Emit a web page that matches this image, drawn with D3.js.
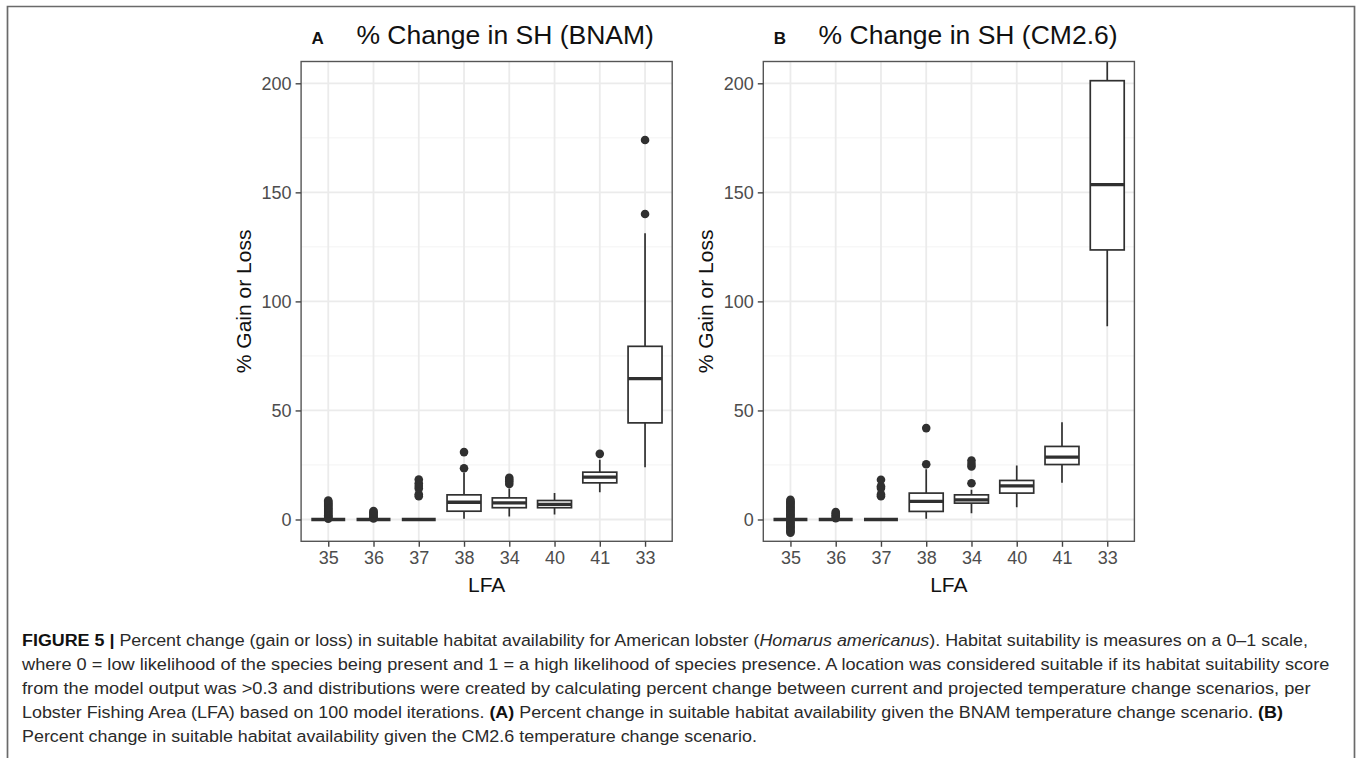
<!DOCTYPE html>
<html><head><meta charset="utf-8">
<script src="https://cdn.jsdelivr.net/npm/d3@7"></script>
<style>
body{margin:0;background:#fff}
svg{display:block}
text{font-family:"Liberation Sans",Arial,Helvetica,sans-serif}
</style>
</head><body>
<svg id="c" width="1360" height="758"></svg>
<script>
// ---------------- DATA ----------------
const categories = ["35","36","37","38","34","40","41","33"];
const yTicks = [0, 50, 100, 150, 200];
const yMinorTicks = [25, 75, 125, 175];

// Panel A : BNAM
const bnamLow    = [0, 0, 0, 0.3, 1.4, 2.3, 12.5, 24.0];
const bnamQ1     = [0, 0, 0, 3.8, 5.4, 5.4, 16.8, 44.3];
const bnamMedian = [0, 0, 0, 7.9, 7.6, 6.9, 19.4, 64.6];
const bnamQ3     = [0, 0, 0, 11.3, 9.9, 8.7, 21.7, 79.4];
const bnamHigh   = [0, 0, 0, 21.5, 14.2, 12.1, 27.4, 131.2];
const bnamOutliers = [
  [0.4,0.8,1.2,1.6,2.0,2.5,3.0,3.4,3.9,4.4,4.9,5.3,5.8,6.3,6.8,7.2,7.7,8.2,8.7],
  [0.5,1.0,1.6,2.2,2.8,3.3,3.9],
  [10.7,11.6,14.2,15.3,16.6,18.3],
  [23.5,30.9],
  [16.3,17.4,18.2,19.1],
  [],
  [30.1],
  [140.1,174.0]
];

// Panel B : CM2.6
const cmLow    = [0, 0, 0, 0.3, 2.9, 5.6, 16.8, 88.6];
const cmQ1     = [0, 0, 0, 3.7, 7.5, 12.1, 25.2, 123.6];
const cmMedian = [0, 0, 0, 8.3, 9.0, 15.4, 28.6, 153.5];
const cmQ3     = [0, 0, 0, 12.1, 11.3, 17.9, 33.5, 201.2];
const cmHigh   = [0, 0, 0, 23.0, 13.6, 24.8, 44.6, 240.0];
const cmOutliers = [
  [-6.1,-5.5,-4.9,-4.3,-3.7,-3.1,-2.5,-1.9,-1.3,-0.7,0.6,1.2,1.8,2.4,3.0,3.6,4.2,4.8,5.4,6.0,6.6,7.2,7.8,8.4,9.0],
  [0.6,1.3,2.0,2.7,3.4],
  [10.7,11.5,14.4,15.2,18.2],
  [25.3,41.9],
  [16.6,24.3,25.5,27.0],
  [],
  [],
  []
];

const panelTags = ["A", "B"];
const panelTitles = ["% Change in SH (BNAM)", "% Change in SH (CM2.6)"];
const yTitle = "% Gain or Loss";
const xTitle = "LFA";

const captionLines = [
  [{t:"FIGURE 5 | ", b:true}, {t:"Percent change (gain or loss) in suitable habitat availability for American lobster ("}, {t:"Homarus americanus", i:true}, {t:"). Habitat suitability is measures on a 0–1 scale,"}],
  [{t:"where 0 = low likelihood of the species being present and 1 = a high likelihood of species presence. A location was considered suitable if its habitat suitability score"}],
  [{t:"from the model output was >0.3 and distributions were created by calculating percent change between current and projected temperature change scenarios, per"}],
  [{t:"Lobster Fishing Area (LFA) based on 100 model iterations. "}, {t:"(A)", b:true}, {t:" Percent change in suitable habitat availability given the BNAM temperature change scenario. "}, {t:"(B)", b:true}],
  [{t:"Percent change in suitable habitat availability given the CM2.6 temperature change scenario."}]
];

// ---------------- LAYOUT ----------------
const svg = d3.select("#c");
const panels = [
  {left: 301.1, right: 672.2, low: bnamLow, q1: bnamQ1, med: bnamMedian, q3: bnamQ3, high: bnamHigh, out: bnamOutliers},
  {left: 763.3, right: 1134.4, low: cmLow, q1: cmQ1, med: cmMedian, q3: cmQ3, high: cmHigh, out: cmOutliers}
];
const plotTop = 61.5, plotBottom = 541.3;

// outer frame
svg.append("path").attr("d", "M7.5,800V6.5H1354.5V800")
  .attr("fill", "none").attr("stroke", "#6a6a6a").attr("stroke-width", 1.7);

const defs = svg.append("defs");

panels.forEach((p, pi) => {
  const x = d3.scalePoint().domain(categories).range([p.left, p.right]).padding(0.6);
  const y = d3.scaleLinear().domain([-10, 210]).range([plotBottom, plotTop]);
  const g = svg.append("g");
  const clipId = "clip" + pi;
  defs.append("clipPath").attr("id", clipId).append("rect")
    .attr("x", p.left).attr("y", plotTop).attr("width", p.right - p.left).attr("height", plotBottom - plotTop);

  const plot = g.append("g").attr("clip-path", `url(#${clipId})`);
  // grid
  plot.selectAll(".minor").data(yMinorTicks).join("line")
    .attr("x1", p.left).attr("x2", p.right)
    .attr("y1", d => y(d)).attr("y2", d => y(d))
    .attr("stroke", "#f3f3f3").attr("stroke-width", 1);
  plot.selectAll(".majorY").data(yTicks).join("line")
    .attr("x1", p.left).attr("x2", p.right)
    .attr("y1", d => y(d)).attr("y2", d => y(d))
    .attr("stroke", "#ebebeb").attr("stroke-width", 1.8);
  plot.selectAll(".majorX").data(categories).join("line")
    .attr("x1", d => x(d)).attr("x2", d => x(d))
    .attr("y1", plotTop).attr("y2", plotBottom)
    .attr("stroke", "#ebebeb").attr("stroke-width", 1.8);

  const bw = x.step() * 0.75;
  const col = "#303030";
  categories.forEach((c, i) => {
    const cx = x(c);
    const bg = plot.append("g");
    bg.selectAll("circle").data(p.out[i]).join("circle")
      .attr("cx", cx).attr("cy", d => y(d)).attr("r", 4.3).attr("fill", col);
    bg.append("line").attr("x1", cx).attr("x2", cx)
      .attr("y1", y(p.q3[i])).attr("y2", y(p.high[i]))
      .attr("stroke", col).attr("stroke-width", 1.7);
    bg.append("line").attr("x1", cx).attr("x2", cx)
      .attr("y1", y(p.q1[i])).attr("y2", y(p.low[i]))
      .attr("stroke", col).attr("stroke-width", 1.7);
    bg.append("rect").attr("x", cx - bw/2).attr("width", bw)
      .attr("y", y(p.q3[i])).attr("height", Math.max(0, y(p.q1[i]) - y(p.q3[i])))
      .attr("fill", "#fff").attr("stroke", col).attr("stroke-width", 1.7);
    bg.append("line").attr("x1", cx - bw/2).attr("x2", cx + bw/2)
      .attr("y1", y(p.med[i])).attr("y2", y(p.med[i]))
      .attr("stroke", col).attr("stroke-width", 3.3);
  });

  // panel border
  g.append("rect").attr("x", p.left).attr("y", plotTop)
    .attr("width", p.right - p.left).attr("height", plotBottom - plotTop)
    .attr("fill", "none").attr("stroke", "#555").attr("stroke-width", 1.4);

  // axes
  const ax = g.append("g").attr("transform", `translate(0,${plotBottom})`)
    .call(d3.axisBottom(x).tickSize(5.5).tickPadding(4));
  const ay = g.append("g").attr("transform", `translate(${p.left},0)`)
    .call(d3.axisLeft(y).tickValues(yTicks).tickSize(5.5).tickPadding(4));
  [ax, ay].forEach(a => {
    a.select(".domain").remove();
    a.selectAll(".tick line").attr("stroke", "#444").attr("stroke-width", 1.4);
    a.selectAll(".tick text").attr("fill", "#4d4d4d")
      .style("font-size", "18px").style("font-family", '"Liberation Sans",Arial,sans-serif');
  });

  // axis titles
  g.append("text").attr("x", (p.left + p.right) / 2).attr("y", 592)
    .attr("text-anchor", "middle").attr("fill", "#111").style("font-size", "21px").text(xTitle);
  g.append("text").attr("transform", `translate(${p.left - 50.5},${(plotTop + plotBottom) / 2}) rotate(-90)`)
    .attr("text-anchor", "middle").attr("fill", "#111").style("font-size", "21px").text(yTitle);

  // title
  g.append("text").attr("x", p.left + 16.5).attr("y", 44).attr("text-anchor", "middle")
    .attr("fill", "#111").style("font-size", "17px").style("font-weight", "bold").text(panelTags[pi]);
  g.append("text").attr("x", p.left + 55.3).attr("y", 44)
    .attr("fill", "#111").style("font-size", "26.5px").text(panelTitles[pi]);
});

// caption
const capX = 22;
const capBase = [646, 670, 694, 718, 742];
const capWidths = [1287, 1308, 1290, 1263, 736];
captionLines.forEach((segs, li) => {
  const t = svg.append("text").attr("fill", "#2a2a2a").style("font-size", "17px");
  segs.forEach(s => {
    const ts = t.append("tspan").text(s.t);
    if (s.b) ts.style("font-weight", "bold").attr("fill", "#111");
    if (s.i) ts.style("font-style", "italic");
  });
  const len = t.node().getComputedTextLength();
  const sx = capWidths[li] / len;
  t.attr("transform", `translate(${capX},${capBase[li]}) scale(${sx},1)`);
});
</script>
</body></html>
